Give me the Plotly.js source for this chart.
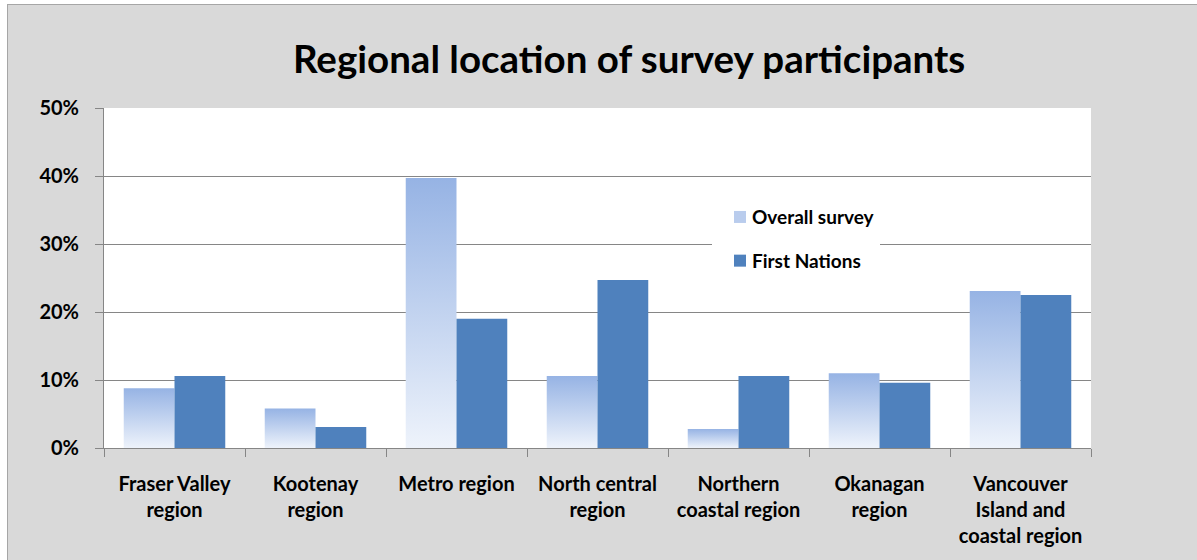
<!DOCTYPE html>
<html>
<head>
<meta charset="utf-8">
<script src="https://cdn.plot.ly/plotly-3.0.1.min.js"></script>
<style>
html, body { margin:0; padding:0; background:#ffffff; overflow:hidden; width:1197px; height:560px; }
#frame { position:absolute; left:7px; top:4px; border:1px solid #a6a6a6; background:#d9d9d9; width:1200px; height:570px; }
#chart { width:1200px; height:570px; }
</style>
</head>
<body>
<div id="frame"><div id="chart"></div></div>
<script>
const categories = ["Fraser Valley<br>region", "Kootenay<br>region", "Metro region", "North central<br>region", "Northern<br>coastal region", "Okanagan<br>region", "Vancouver<br>Island and<br>coastal region"];
const overallSurvey = [0.088, 0.058, 0.397, 0.106, 0.028, 0.110, 0.231];
const firstNations = [0.106, 0.031, 0.190, 0.247, 0.106, 0.096, 0.225];
const seriesNames = ["Overall survey", "First Nations"];
const yTicks = [0, 0.1, 0.2, 0.3, 0.4, 0.5];

const FONT = "Lato, 'Open Sans', sans-serif";

const traces = [
  { type: "bar", name: seriesNames[0], x: categories, y: overallSurvey, legendgroup: "a",
    marker: { color: "#b9cced", line: { width: 0 } }, hoverinfo: "skip" },
  { type: "bar", name: seriesNames[1], x: categories, y: firstNations, legendgroup: "b",
    marker: { color: "#4f81bd", line: { width: 0 } }, hoverinfo: "skip" }
];

const layout = {
  width: 1200, height: 570,
  margin: { l: 96, r: 117, t: 103, b: 127 },
  paper_bgcolor: "#d9d9d9",
  plot_bgcolor: "#ffffff",
  font: { family: FONT, color: "#000000", size: 20, weight: "bold" },
  title: { text: "Regional location of survey participants",
    font: { family: FONT, size: 38.5, color: "#000000", weight: "bold" },
    x: 0.532, xref: "paper", xanchor: "center", y: 1 - 55/570, yref: "container", yanchor: "middle" },
  barmode: "group", bargap: 0.28, bargroupgap: 0,
  xaxis: { type: "category", showline: true, linecolor: "#868686", linewidth: 1,
    ticks: "outside", tickson: "boundaries", ticklen: 8, tickcolor: "#868686",
    tickfont: { family: FONT, size: 20, weight: "bold", color: "#000" }, ticklabelstandoff: 18,
    showgrid: false, fixedrange: true },
  yaxis: { range: [0, 0.5], tickvals: yTicks, tickformat: ".0%", showline: true, linecolor: "#868686", linewidth: 1,
    ticks: "outside", ticklen: 8, tickcolor: "#868686", gridcolor: "#868686", gridwidth: 1,
    zeroline: false, tickfont: { family: FONT, size: 20, weight: "bold", color: "#000" }, ticklabelstandoff: 12,
    fixedrange: true },
  showlegend: true,
  legend: { x: 0.616, y: 0.735, xanchor: "left", yanchor: "top", bgcolor: "#ffffff", borderwidth: 0,
    font: { family: FONT, size: 19, weight: "bold", color: "#000" }, tracegroupgap: 16, traceorder: "grouped",
    entrywidth: 150, itemclick: false, itemdoubleclick: false }
};

Plotly.newPlot("chart", traces, layout, { staticPlot: true, displayModeBar: false }).then(function (gd) {
  const svg = gd.querySelector("svg.main-svg");
  const ns = "http://www.w3.org/2000/svg";
  let defs = svg.querySelector("defs");
  if (!defs) { defs = document.createElementNS(ns, "defs"); svg.insertBefore(defs, svg.firstChild); }
  const g = document.createElementNS(ns, "linearGradient");
  g.setAttribute("id", "ovgrad");
  g.setAttribute("x1", "0"); g.setAttribute("y1", "0"); g.setAttribute("x2", "0"); g.setAttribute("y2", "1");
  [["0", "#96b3e4"], ["1", "#eef3fb"]].forEach(function (s) {
    const st = document.createElementNS(ns, "stop");
    st.setAttribute("offset", s[0]); st.setAttribute("stop-color", s[1]);
    g.appendChild(st);
  });
  defs.appendChild(g);
  const barTraces = gd.querySelectorAll(".barlayer .trace");
  if (barTraces.length) {
    barTraces[0].querySelectorAll("path").forEach(function (p) { p.style.fill = "url(#ovgrad)"; });
  }
  gd.querySelectorAll(".legend .legendpoints").forEach(function (el) {
    el.setAttribute("transform", "translate(8,0)");
  });
});
</script>
</body>
</html>
